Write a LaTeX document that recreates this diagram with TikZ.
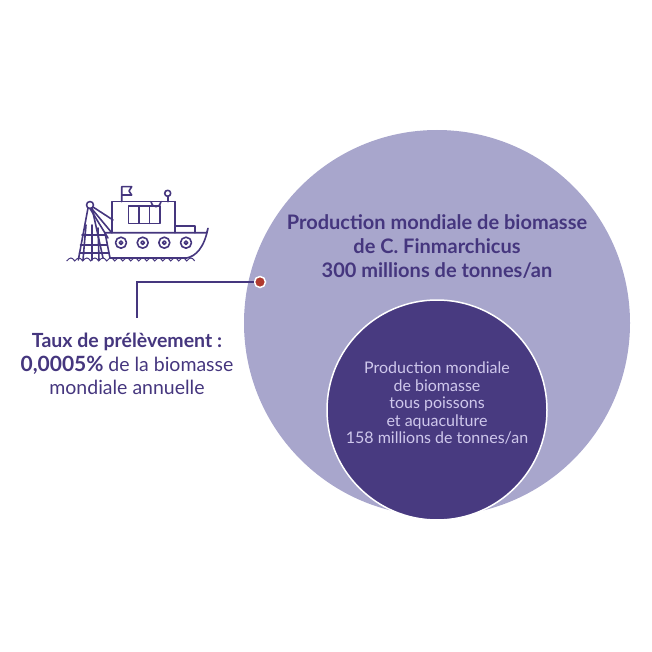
\documentclass[tikz,border=0pt]{standalone}
\usepackage{fontspec}
\setmainfont{Lato}
\definecolor{bigcirc}{HTML}{A8A6CC}
\definecolor{smallcirc}{HTML}{483A80}
\definecolor{darktext}{HTML}{45367E}
\definecolor{lighttext}{HTML}{CFC8EC}
\definecolor{dotred}{HTML}{B03A2E}
\tikzset{
  boatline/.style={draw=darktext, line width=1.6pt, line join=round, line cap=round},
  bigtext/.style={text=darktext, font=\fontsize{20}{24}\selectfont\bfseries, align=center},
  smalltext/.style={text=lighttext, font=\fontsize{16}{17.5}\selectfont, align=center},
  lefttext/.style={text=darktext, font=\fontsize{19.5}{23.5}\selectfont\bfseries, align=center}
}
\begin{document}
\begin{tikzpicture}[x=1pt,y=-1pt]
\useasboundingbox (0,0) rectangle (651,652);
% circles
\fill[bigcirc] (437,323) circle (193);
\draw[smallcirc, fill=smallcirc, draw=white, line width=1.5pt] (437,410) circle (110);
\node[bigtext] (big) at (437,247) {Production mondiale de biomasse\\de C. Finmarchicus\\300 millions de tonnes/an};
\node[smalltext] (small) at (437,403) {Production mondiale\\de biomasse\\tous poissons\\et aquaculture\\158 millions de tonnes/an};
% marker and leader
\node[circle, fill=dotred, draw=white, line width=1.5pt, inner sep=0pt, minimum size=11pt] (dot) at (260,282) {};
\coordinate (corner) at (137,282);
\coordinate (foot) at (137,318);
\draw[darktext, line width=1.3pt] (dot.west) -- (corner) -- (foot);
\node[lefttext] (rate) at (127,364) {Taux de prélèvement :\\{\fontsize{21}{23.5}\selectfont 0,0005\%} {\mdseries de la biomasse}\\{\mdseries mondiale annuelle}};
% boat
\draw[boatline] (105,232.7) -- (206.7,232.7) -- (208,228.3) .. controls (204,248) and (196,256) .. (186.7,258) -- (110,258) -- (105,232.7);
\draw[boatline] (111.7,232.7) -- (111.7,201.7) -- (175,201.7) -- (175,226) -- (195,226) -- (195,232.7);
\draw[boatline] (175,201.7) -- (175,232.7);
\draw[boatline] (128.3,206) rectangle (160,223.3);
\draw[boatline] (139,206) -- (139,223.3) (149.5,206) -- (149.5,223.3);
\draw[boatline] (121.7,201.7) -- (121.7,186.7) -- (131.7,186.7) -- (129,191) -- (131.7,195) -- (121.7,195);
\draw[boatline] (151,201.7) arc (180:0:5);
\draw[boatline] (167.7,201.7) -- (167.7,196.3);
\draw[boatline] (167.7,193.3) circle (3);
\foreach \x in {121,142.7,164.3,186}{
  \draw[boatline] (\x,242.7) circle (5.5);
  \draw[boatline] (\x,242.7) circle (1.8);
}
% net
\draw[boatline] (90,205) circle (3.5);
\draw[boatline] (88,208) -- (78.3,260) (92,208) -- (103,258);
\draw[boatline] (93,207) -- (113,220) (92,209) -- (111.7,232.7) (90,208.5) -- (108,238);
\draw[boatline] (82,235) -- (105,235) (80.5,245) -- (107,245) (79.5,253) -- (109,253);
\draw[boatline] (86,225) -- (83,260) (92,225) -- (92,260) (98,228) -- (99,260);
% waves
\draw[darktext, line width=1pt] (66.7,261)
  \foreach \i in {0,...,15}{ .. controls (70+\i*8,257) and (72+\i*8,257) .. (74.7+\i*8,261) };
\end{tikzpicture}
\end{document}
